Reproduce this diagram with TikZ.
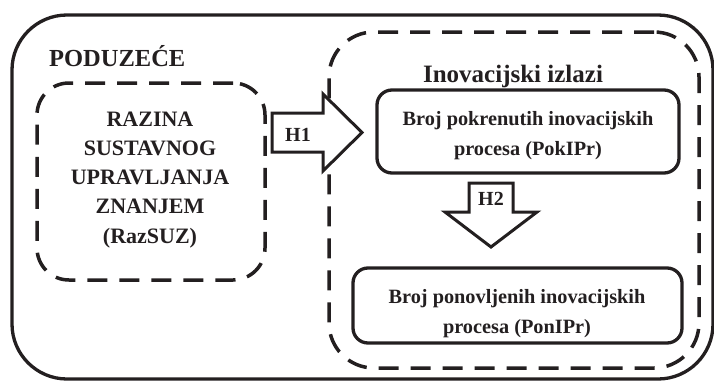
\documentclass[tikz,border=0pt]{standalone}
\usepackage{fontspec}
\setmainfont{Liberation Serif}
\definecolor{ink}{HTML}{231F20}
\begin{document}
\begin{tikzpicture}[x=1pt,y=-1pt,
  outerbox/.style={draw=ink, line width=3.3pt, rounded corners=55pt, inner sep=0pt},
  dashbox/.style={draw=ink, line width=3.5pt, dash pattern=on 20pt off 12pt, inner sep=0pt},
  solidbox/.style={draw=ink, line width=3.3pt, rounded corners=15pt, inner sep=0pt},
  blockarrow/.style={draw=ink, line width=3pt, fill=white, line join=miter},
  lbl/.style={text=ink, font=\bfseries, inner sep=0pt, anchor=base, align=center}
]
\useasboundingbox (0,0) rectangle (714,380);
% containers
\node[outerbox, minimum width=701pt, minimum height=364pt] (firm) at (362.5,197) {};
\node[dashbox, rounded corners=32pt, minimum width=228pt, minimum height=197pt] (razbox) at (151,181.5) {};
\node[dashbox, rounded corners=45pt, minimum width=370pt, minimum height=336pt] (outbox) at (514,200) {};
\node[solidbox, minimum width=302pt, minimum height=83pt] (pok) at (528,131.5) {};
\node[solidbox, minimum width=329pt, minimum height=75pt] (pon) at (517.5,305.5) {};
% block arrows
\draw[blockarrow] (272,113) -- (323,113) -- (323,94) -- (362,132.5) -- (323,171) -- (323,152) -- (272,152) -- cycle;
\draw[blockarrow] (469,183) -- (513,183) -- (513,212) -- (537,212) -- (491,247) -- (445,212) -- (469,212) -- cycle;
\node[lbl, font=\bfseries\fontsize{20}{24}\selectfont] (h1) at (298,141) {H1};
\node[lbl, font=\bfseries\fontsize{20}{24}\selectfont] (h2) at (491,205) {H2};
% texts
\node[lbl, anchor=base west, font=\bfseries\fontsize{24.5}{28}\selectfont] (firmlbl) at (49,66) {PODUZEĆE};
\node[lbl, font=\bfseries\fontsize{22}{29.2}\selectfont] (razlbl) at (150,243) {RAZINA\\SUSTAVNOG\\UPRAVLJANJA\\ZNANJEM\\(RazSUZ)};
\node[lbl, font=\bfseries\fontsize{25}{30}\selectfont] (outlbl) at (513,82) {Inovacijski izlazi};
\node[lbl, font=\bfseries\fontsize{20.3}{30}\selectfont] (poklbl) at (528,155) {Broj pokrenutih inovacijskih\\procesa (PokIPr)};
\node[lbl, font=\bfseries\fontsize{20.3}{30}\selectfont] (ponlbl) at (517,333) {Broj ponovljenih inovacijskih\\procesa (PonIPr)};
\end{tikzpicture}
\end{document}
